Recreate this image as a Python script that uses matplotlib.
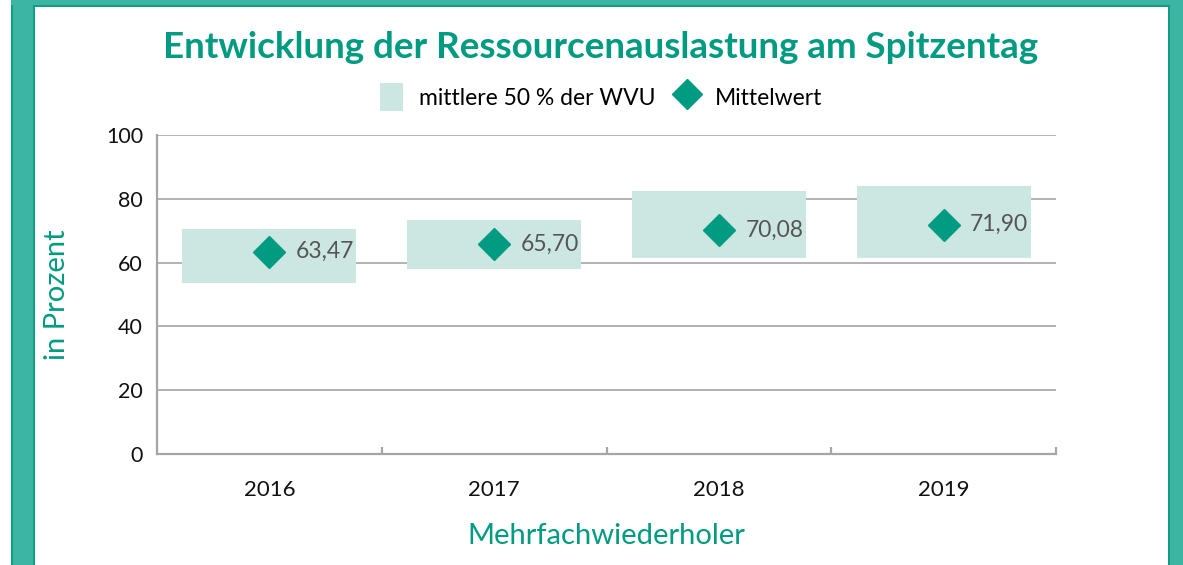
import matplotlib.pyplot as plt
from matplotlib.patches import Rectangle
from matplotlib.lines import Line2D
import numpy as np

plt.rcParams['font.family'] = ['Lato', 'DejaVu Sans']

years = ["2016", "2017", "2018", "2019"]
q_low = [53.6, 58.0, 61.5, 61.5]
q_high = [70.6, 73.5, 82.6, 84.1]
means = [63.47, 65.70, 70.08, 71.90]
mean_labels = ["63,47", "65,70", "70,08", "71,90"]

teal = "#009B80"
box_col = "#CCE7E2"
grid_col = "#A6A6A6"

W, H = 1183, 565
fig = plt.figure(figsize=(W / 100, H / 100), dpi=100)

# teal frame around the panel
frame_fill = "#3DB5A5"
frame_edge = "#0E9E84"
for x0, x1 in [(11, 35), (1168, 1200)]:
    fig.patches.append(Rectangle((x0 / W, 0), (x1 - x0) / W, 1, transform=fig.transFigure,
                                 facecolor=frame_fill, edgecolor='none', zorder=0))
    fig.patches.append(Rectangle((x0 / W, 0), 2 / W, 1, transform=fig.transFigure,
                                 facecolor=frame_edge, edgecolor='none', zorder=0))
    fig.patches.append(Rectangle(((x1 - 2) / W, 0), 2 / W, 1, transform=fig.transFigure,
                                 facecolor=frame_edge, edgecolor='none', zorder=0))
fig.patches.append(Rectangle((11 / W, 1 - 5 / H), 1189 / W, 5 / H, transform=fig.transFigure,
                             facecolor=frame_fill, edgecolor='none', zorder=0))
fig.patches.append(Rectangle((35 / W, 1 - 6.5 / H), 1133 / W, 1.5 / H, transform=fig.transFigure,
                             facecolor=frame_edge, edgecolor='none', zorder=0))

ax = fig.add_axes([157 / W, 1 - 454 / H, (1056 - 157) / W, (454 - 135) / H])
x = np.arange(len(years))
box_w = 0.775
ax.bar(x, np.array(q_high) - np.array(q_low), bottom=q_low, width=box_w,
       color=box_col, zorder=2)
ax.plot(x, means, linestyle='none', marker='D', markersize=16, color=teal, zorder=3)
for xi, m, lab in zip(x, means, mean_labels):
    ax.annotate(lab, (xi, m), xytext=(19, 0), textcoords='offset points',
                ha='left', va='center', fontsize=16.5, color="#555555", zorder=4)

ax.set_xlim(-0.5, len(years) - 0.5)
ax.set_ylim(0, 100)
ax.set_yticks(range(0, 101, 20))
ax.yaxis.grid(True, color=grid_col, linewidth=1.2, zorder=1)
ax.set_axisbelow(True)
for s in ['top', 'right']:
    ax.spines[s].set_visible(False)
for s in ['left', 'bottom']:
    ax.spines[s].set_color(grid_col)
    ax.spines[s].set_linewidth(1.6)
ax.tick_params(axis='y', length=0, labelsize=15.5, pad=10, labelcolor="#111111")
ax.set_xticks(x)
ax.set_xticklabels(years)
ax.tick_params(axis='x', length=0, labelsize=16, pad=19, labelcolor="#111111")
ax.set_xticks(np.arange(0.5, len(years), 1), minor=True)
ax.tick_params(axis='x', which='minor', direction='in', length=5, width=1.6, color=grid_col)

ax.set_ylabel("in Prozent", fontsize=21, color=teal, labelpad=26)
ax.set_xlabel("Mehrfachwiederholer", fontsize=21, color=teal, labelpad=16)

fig.text(0.508, 1 - 47 / H, "Entwicklung der Ressourcenauslastung am Spitzentag",
         ha='center', va='center', fontsize=26.5, fontweight='bold', color=teal)

handles = [Rectangle((0, 0), 1, 1, facecolor=box_col, edgecolor='none'),
           Line2D([], [], linestyle='none', marker='D', markersize=15, color=teal)]
fig.legend(handles, ["mittlere 50 % der WVU", "Mittelwert"], loc='center',
           bbox_to_anchor=(0.508, 1 - 97 / H), ncol=2, frameon=False, fontsize=16.5,
           handlelength=1.0, handleheight=1.5, handletextpad=0.7, columnspacing=0.9)

fig.savefig("out.png", dpi=100)
